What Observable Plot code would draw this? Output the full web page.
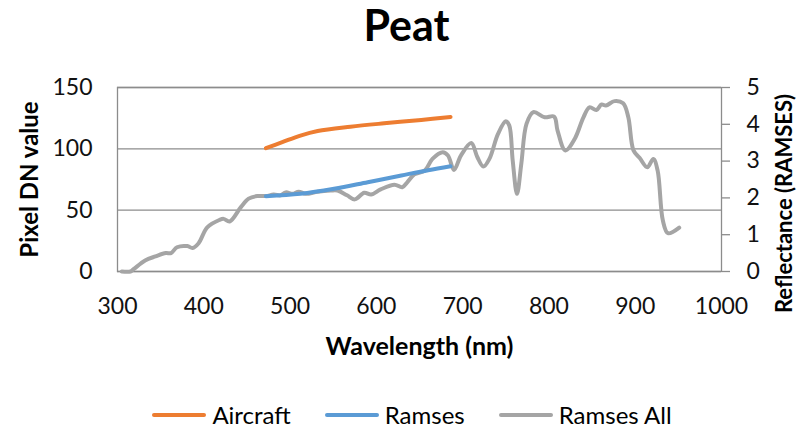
<!DOCTYPE html>
<html>
<head>
<meta charset="utf-8">
<script src="https://cdn.jsdelivr.net/npm/d3@7"></script>
<script src="https://cdn.jsdelivr.net/npm/@observablehq/plot@0.6"></script>
<style>
  html, body { margin: 0; padding: 0; background: #fff; }
  #wrap { position: relative; width: 809px; height: 430px; overflow: hidden; font-family: Lato, "Open Sans", sans-serif; }
  #chart { position: absolute; left: 0; top: 0; }
  #legend { position: absolute; left: 0; width: 824px; top: 402px; height: 26px; display: flex; justify-content: center; align-items: center; font-size: 24px; line-height: 26px; color: #000; }
  .item { display: flex; align-items: center; margin: 0 17px; }
  .sw { width: 54px; height: 4px; border-radius: 2px; margin-right: 6px; }
</style>
</head>
<body>
<div id="wrap">
  <div id="chart"></div>
  <div id="legend"></div>
</div>
<script>
// ---- Data ----
const xTicks = [300, 400, 500, 600, 700, 800, 900, 1000];
const leftTicks = [0, 50, 100, 150];
const rightTicks = [0, 1, 2, 3, 4, 5];

const aircraftWl = [472, 491, 512, 532, 570, 609, 652, 686];
const aircraftDN = [100.5, 105.4, 110.8, 114.5, 118.0, 120.8, 123.6, 126.0];

const ramsesWl = [472, 512, 551, 590, 629, 660, 686];
const ramsesDN = [61.4, 63.3, 67.4, 72.8, 78.3, 82.6, 85.8];

const ramsesAllWl = [305, 315, 319, 332, 344, 356, 362, 369, 381, 387, 394, 404, 418, 423, 430, 443, 452, 462, 472, 481, 489, 495, 503, 510, 518, 532, 547, 555, 566, 575, 586, 594, 605, 621, 630, 636, 644, 656, 665, 677, 683, 690, 698, 710, 717, 724, 731, 741, 750, 754, 758, 763, 768, 774, 782, 795, 806, 810, 819, 830, 840, 847, 855, 861, 866, 876, 886, 892, 898, 905, 914, 921, 926, 932, 938, 951];
const ramsesAllRefl = [0.0, 0.0, 0.07, 0.30, 0.41, 0.50, 0.50, 0.66, 0.69, 0.64, 0.77, 1.20, 1.40, 1.43, 1.36, 1.75, 1.98, 2.05, 2.05, 2.09, 2.07, 2.15, 2.11, 2.17, 2.11, 2.17, 2.20, 2.20, 2.07, 1.96, 2.14, 2.09, 2.23, 2.36, 2.29, 2.43, 2.64, 2.74, 3.06, 3.24, 3.15, 2.76, 3.15, 3.49, 3.11, 2.85, 3.06, 3.74, 4.08, 3.97, 3.02, 2.11, 2.93, 4.01, 4.33, 4.19, 4.21, 3.83, 3.29, 3.61, 4.19, 4.46, 4.39, 4.54, 4.51, 4.63, 4.57, 4.19, 3.29, 3.09, 2.83, 3.06, 2.74, 1.39, 1.04, 1.19];

const seriesNames = ["Aircraft", "Ramses", "Ramses All"];
const seriesColors = ["#ED7D31", "#5B9BD5", "#A5A5A5"];

// right axis (reflectance 0-5) maps onto the left axis (DN 0-150)
const ratio = 150 / 5;

const aircraft = aircraftWl.map((w, i) => ({w, v: aircraftDN[i]}));
const ramses = ramsesWl.map((w, i) => ({w, v: ramsesDN[i]}));
const ramsesAll = ramsesAllWl.map((w, i) => ({w, r: ramsesAllRefl[i]}));

const font = "Lato, 'Open Sans', sans-serif";

const chart = Plot.plot({
  width: 809,
  height: 430,
  marginLeft: 117,
  marginRight: 88,
  marginTop: 87,
  marginBottom: 159,
  style: {fontFamily: font, background: "#fff", color: "#000", overflow: "visible"},
  x: {domain: [300, 1000]},
  y: {domain: [0, 150]},
  marks: [
    Plot.gridY(leftTicks, {stroke: "#8c8c8c", strokeOpacity: 1, strokeWidth: 1.3}),
    Plot.frame({stroke: "#8c8c8c", strokeWidth: 1.3}),
    Plot.axisX(xTicks, {tickSize: 0, tickPadding: 26, fontSize: 23, fill: "#111", tickFormat: d => String(d), label: null}),
    Plot.axisY(leftTicks, {anchor: "left", tickSize: 0, tickPadding: 25, fontSize: 23, fill: "#111", tickFormat: d => String(d), label: null}),
    Plot.axisY(rightTicks.map(d => d * ratio), {anchor: "right", tickSize: 8, tickPadding: 17, stroke: "#8c8c8c", strokeWidth: 1.3, fontSize: 23, fill: "#111", tickFormat: d => String(Math.round(d / ratio)), label: null}),
    Plot.line(ramsesAll, {x: "w", y: d => d.r * ratio, stroke: seriesColors[2], strokeWidth: 4, curve: "catmull-rom"}),
    Plot.line(ramses, {x: "w", y: "v", stroke: seriesColors[1], strokeWidth: 4, curve: "catmull-rom"}),
    Plot.line(aircraft, {x: "w", y: "v", stroke: seriesColors[0], strokeWidth: 4, curve: "catmull-rom"}),
    Plot.text(["Peat"], {frameAnchor: "top", dx: -13, dy: -60, lineAnchor: "middle", textAnchor: "middle", fontSize: 43, fontWeight: "bold", fill: "#000"}),
    Plot.text(["Pixel DN value"], {frameAnchor: "left", dx: -87, rotate: -90, textAnchor: "middle", lineAnchor: "middle", fontSize: 24, fontWeight: "bold", fill: "#000"}),
    Plot.text(["Reflectance (RAMSES)"], {frameAnchor: "right", dx: 63, dy: 24, rotate: -90, textAnchor: "middle", lineAnchor: "middle", fontSize: 22, fontWeight: "bold", fill: "#000"}),
    Plot.text(["Wavelength (nm)"], {frameAnchor: "bottom", dy: 75, lineAnchor: "middle", textAnchor: "middle", fontSize: 25, fontWeight: "bold", fill: "#000"})
  ]
});
document.getElementById("chart").appendChild(chart);

const legend = document.getElementById("legend");
seriesNames.forEach((name, i) => {
  const item = document.createElement("div");
  item.className = "item";
  const sw = document.createElement("div");
  sw.className = "sw";
  sw.style.background = seriesColors[i];
  const label = document.createElement("span");
  label.textContent = name;
  item.appendChild(sw);
  item.appendChild(label);
  legend.appendChild(item);
});
</script>
</body>
</html>
